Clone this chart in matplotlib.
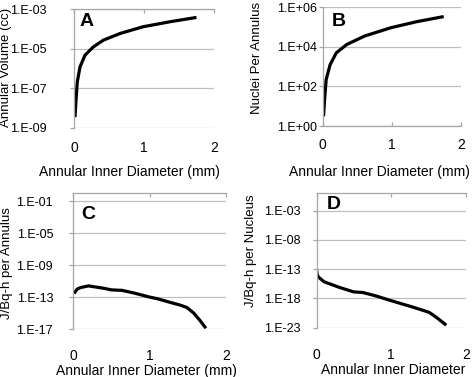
import numpy as np
import matplotlib.pyplot as plt

plt.rcParams['font.family'] = ['Liberation Sans', 'DejaVu Sans']

# A: annular volume (cc), log10 values
vol_x = [0.014, 0.03, 0.047, 0.086, 0.157, 0.276, 0.42, 0.66, 0.99, 1.37, 1.75]
vol_log = [-8.45, -7.52, -6.67, -5.91, -5.32, -4.90, -4.56, -4.22, -3.88, -3.63, -3.41]

# B: nuclei per annulus
nuc_x = [0.015, 0.03, 0.053, 0.11, 0.20, 0.35, 0.61, 0.99, 1.37, 1.75]
nuc_log = [0.49, 1.34, 2.35, 3.10, 3.70, 4.12, 4.55, 4.97, 5.28, 5.53]

# C: J/Bq-h per annulus
ann_x = [0.01, 0.05, 0.1, 0.2, 0.3, 0.4, 0.5, 0.64, 0.8, 1.0, 1.1, 1.27, 1.4, 1.49, 1.58, 1.66, 1.74]
ann_log = [-12.55, -12.0, -11.8, -11.6, -11.75, -11.9, -12.1, -12.16, -12.5, -13.0, -13.2,
           -13.66, -14.0, -14.3, -15.0, -15.9, -16.9]

# D: J/Bq-h per nucleus
per_x = [0.0, 0.01, 0.03, 0.1, 0.3, 0.5, 0.62, 0.8, 1.0, 1.29, 1.51, 1.6, 1.74]
per_log = [-13.0, -14.0, -14.4, -15.15, -16.1, -16.9, -17.0, -17.6, -18.4, -19.5, -20.4, -21.2, -22.6]

W, H = 472, 377
fig = plt.figure(figsize=(W / 100, H / 100), dpi=100)


def px_axes(left, right, top, bottom):
    return fig.add_axes([left / W, 1 - bottom / H, (right - left) / W, (bottom - top) / H])


grid_c = '#bfbfbf'
spine_c = '#a6a6a6'


def style(ax, x, ylog, ylim, yticks, xaxis_top, ypad, xpad, letter, lpos):
    ax.plot(x, 10.0 ** np.array(ylog), color='black', lw=2.3, solid_capstyle='butt')
    ax.set_yscale('log')
    ax.set_ylim(10.0 ** ylim[0], 10.0 ** ylim[1])
    ax.set_xlim(0, 2)
    ax.set_xticks([0, 1, 2])
    ax.set_xticklabels(['0', '1', '2'])
    ax.set_yticks([10.0 ** t for t in yticks])
    ax.set_yticklabels(['1.E+%02d' % t if t >= 0 else '1.E-%02d' % -t for t in yticks])
    ax.yaxis.set_minor_locator(plt.NullLocator())
    ax.grid(axis='y', color=grid_c, lw=0.9)
    ax.set_axisbelow(True)
    for s in ['right', 'top', 'bottom']:
        ax.spines[s].set_visible(False)
    ax.spines['left'].set_color(spine_c)
    ax.spines['left'].set_linewidth(0.9)
    side = 'top' if xaxis_top else 'bottom'
    ax.spines[side].set_visible(True)
    ax.spines[side].set_color(spine_c)
    ax.spines[side].set_linewidth(0.9)
    ax.tick_params(axis='y', direction='out', length=3, width=0.9, color=spine_c,
                   labelsize=9, pad=ypad)
    ax.tick_params(axis='x', direction='in', length=3, width=0.9, color=spine_c,
                   labelsize=10, pad=xpad, top=xaxis_top, bottom=not xaxis_top,
                   labeltop=False, labelbottom=True)
    ax.text(lpos[0], lpos[1], letter, transform=ax.transAxes, fontsize=14,
            fontweight='bold', ha='left', va='top')


axA = px_axes(74, 214, 9.3, 128)
style(axA, vol_x, vol_log, (-9, -3), [-9, -7, -5, -3], True, 16.5, 9.5, 'A', (0.04, 0.97))
axB = px_axes(322.5, 461, 7.3, 126)
style(axB, nuc_x, nuc_log, (0, 6), [0, 2, 4, 6], False, 0.8, 8.5, 'B', (0.065, 0.95))
axC = px_axes(73.3, 225.7, 193.3, 329)
style(axC, ann_x, ann_log, (-17, 0), [-17, -13, -9, -5, -1], True, 11.5, 14.5, 'C', (0.05, 0.91))
axD = px_axes(316.5, 465.7, 193.3, 327.5)
style(axD, per_x, per_log, (-23, 0), [-23, -18, -13, -8, -3], True, 8.4, 15, 'D', (0.07, 0.98))

lab = dict(fontsize=10, ha='center', va='center')
ylab = dict(fontsize=9.5, ha='center', va='center', rotation=90)
fig.text(6.5 / W, 1 - 67 / H, 'Annular Volume (cc)', **ylab)
fig.text(129 / W, 1 - 172 / H, 'Annular Inner Diameter (mm)', **lab)
fig.text(257 / W, 1 - 58 / H, 'Nuclei Per Annulus', **ylab)
fig.text(379 / W, 1 - 172 / H, 'Annular Inner Diameter (mm)', **lab)
fig.text(7 / W, 1 - 263.5 / H, 'J/Bq-h per Annulus', **ylab)
fig.text(146.5 / W, 1 - 370.5 / H, 'Annular Inner Diameter (mm)', **lab)
fig.text(251 / W, 1 - 251 / H, 'J/Bq-h per Nucleus', **ylab)
fig.text(393.5 / W, 1 - 370.5 / H, 'Annular Inner Diameter', **lab)

fig.savefig('out.png', dpi=100)
